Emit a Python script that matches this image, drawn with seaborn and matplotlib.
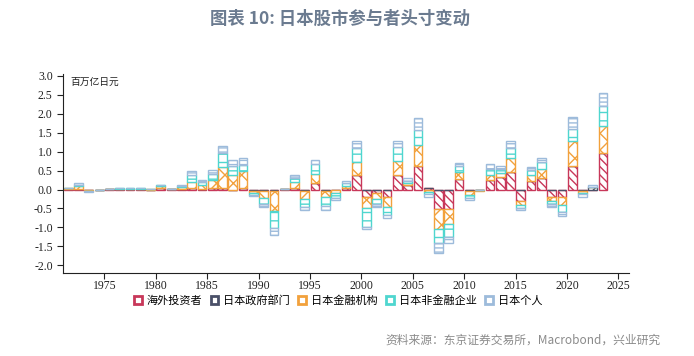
import numpy as np
import pandas as pd
import seaborn as sns
import matplotlib.pyplot as plt
from matplotlib.patches import Patch

years = list(range(1971, 2024))

# 百万亿日元
foreign = [0.01, 0.02, -0.01, 0.0, 0.005, 0.01, 0.01, 0.01, 0.0, 0.04,
           0.005, 0.02, 0.05, 0.02, 0.03, 0.03, -0.02, 0.03, -0.04, -0.03,
           -0.03, 0.01, 0.05, -0.03, 0.16, -0.03, -0.02, 0.03, 0.38, -0.19,
           -0.08, -0.19, 0.39, 0.11, 0.63, 0.05, -0.52, -0.52, 0.27, -0.05,
           -0.02, 0.25, 0.32, 0.45, -0.30, 0.22, 0.29, -0.21, -0.21, 0.63,
           -0.03, 0.0, 0.96]
government = [0.0] * 51 + [0.06, 0.0]
financial = [0.02, 0.06, -0.02, -0.005, 0.01, 0.01, 0.01, 0.015, 0.005, 0.04,
             0.005, 0.04, 0.15, 0.09, 0.22, 0.55, 0.38, 0.45, -0.06, -0.20,
             -0.53, 0.005, 0.15, -0.22, 0.26, -0.18, -0.08, 0.06, 0.35, -0.31,
             -0.18, -0.27, 0.36, 0.05, 0.55, -0.06, -0.53, -0.38, 0.19, -0.10,
             -0.01, 0.14, 0.12, 0.37, -0.11, 0.17, 0.26, -0.09, -0.21, 0.64,
             -0.05, 0.0, 0.72]
nonfinancial = [0.01, 0.05, -0.02, 0.0, 0.005, 0.01, 0.01, 0.015, 0.0, 0.03,
                0.005, 0.04, 0.18, 0.08, 0.15, 0.37, 0.23, 0.16, -0.05, -0.15,
                -0.45, 0.005, 0.10, -0.20, 0.26, -0.22, -0.12, 0.07, 0.37, -0.48,
                -0.12, -0.20, 0.37, 0.07, 0.40, -0.07, -0.35, -0.35, 0.16, -0.07,
                0.0, 0.16, 0.11, 0.28, -0.07, 0.13, 0.18, -0.09, -0.16, 0.33,
                -0.05, 0.0, 0.52]
individual = [0.01, 0.05, -0.02, -0.005, 0.0, 0.01, 0.01, 0.01, 0.0, 0.02,
              0.005, 0.03, 0.10, 0.07, 0.11, 0.19, 0.16, 0.18, -0.03, -0.09,
              -0.19, 0.0, 0.08, -0.09, 0.09, -0.10, -0.06, 0.06, 0.18, -0.07,
              -0.07, -0.08, 0.16, 0.06, 0.31, -0.06, -0.27, -0.15, 0.08, -0.06,
              0.0, 0.12, 0.06, 0.17, -0.06, 0.08, 0.10, -0.06, -0.12, 0.31,
              -0.06, 0.05, 0.34]

series_names = ["海外投资者", "日本政府部门", "日本金融机构", "日本非金融企业", "日本个人"]
series_values = [foreign, government, financial, nonfinancial, individual]
colors = ["#c8385a", "#4a5068", "#f2a13c", "#4fd6cf", "#9dbbdb"]
hatches = ["\\\\\\\\", "////", "xx", "--", "----"]

plt.rcParams["hatch.linewidth"] = 1.0

fig = plt.figure(figsize=(6.94, 3.56), dpi=100)
ax = fig.add_axes([0.091, 0.233, 0.815, 0.56])

pos_base = np.zeros(len(years))
neg_base = np.zeros(len(years))
for name, vals, col, hat in zip(series_names, series_values, colors, hatches):
    v = np.array(vals, dtype=float)
    bottom = np.where(v >= 0, pos_base, neg_base)
    df = pd.DataFrame({"x": np.array(years) + 0.5, "y": v})
    sns.barplot(data=df, x="x", y="y", native_scale=True, width=0.85,
                errorbar=None, ax=ax, color=col, bottom=bottom, facecolor="white",
                edgecolor=col, linewidth=1.0, hatch=hat)
    pos_base = pos_base + np.where(v >= 0, v, 0)
    neg_base = neg_base + np.where(v < 0, v, 0)

ax.set_xlim(1971, 2026)
ax.set_ylim(-2.2, 3.05)
ax.set_xticks(range(1975, 2026, 5))
ax.set_yticks(np.arange(-2.0, 3.01, 0.5))
ax.set_yticklabels([f"{t:.1f}" for t in np.arange(-2.0, 3.01, 0.5)])
ax.set_xlabel("")
ax.set_ylabel("")
for s in ["top", "right"]:
    ax.spines[s].set_visible(False)
for s in ["left", "bottom"]:
    ax.spines[s].set_color("#222222")
    ax.spines[s].set_linewidth(0.8)
ax.tick_params(axis="both", direction="out", length=4, width=0.8,
               labelsize=8.5, colors="#222222")
ax.tick_params(axis="x", pad=1)
for lab in ax.get_xticklabels() + ax.get_yticklabels():
    lab.set_fontfamily("Liberation Serif")

ax.text(0.012, 0.985, "百万亿日元", transform=ax.transAxes, ha="left", va="top",
        fontsize=7, family=["Noto Sans CJK SC", "DejaVu Sans"], color="#222222")

fig.text(0.49, 0.948, "图表 10: 日本股市参与者头寸变动", ha="center", va="center",
         fontsize=12.5, fontweight="bold", color="#6b7b90",
         family=["Noto Sans CJK SC", "DejaVu Sans"])

handles = [Patch(facecolor="white", edgecolor=c, linewidth=2) for c in colors]
fig.legend(handles, series_names, loc="center", bbox_to_anchor=(0.487, 0.155),
           ncol=5, frameon=False, handlelength=0.7, handleheight=0.7,
           handletextpad=0.4, columnspacing=0.8,
           prop={"family": ["Noto Sans CJK SC", "DejaVu Sans"], "size": 8})

fig.text(0.952, 0.045, "资料来源：东京证券交易所，Macrobond，兴业研究", ha="right",
         va="center", fontsize=8.5, color="#8a8a8a",
         family=["Noto Sans CJK SC", "DejaVu Sans"])

fig.savefig("out.png", dpi=100)
